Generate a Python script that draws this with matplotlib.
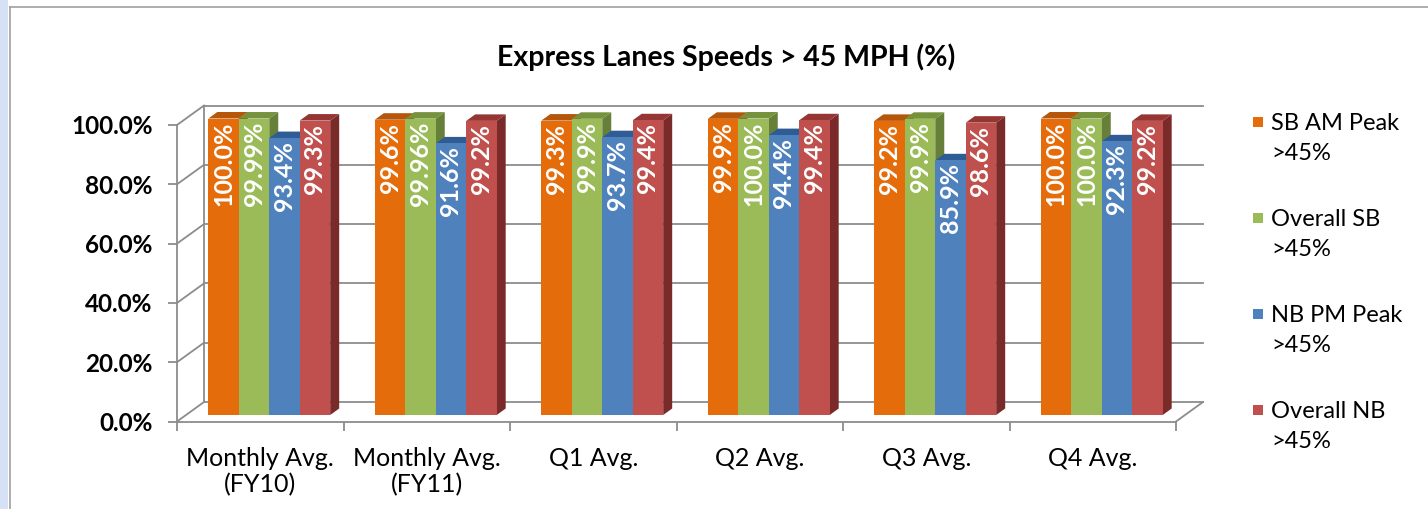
import numpy as np
import matplotlib
matplotlib.use('Agg')
import matplotlib.pyplot as plt
from matplotlib.patches import Rectangle, Polygon
from matplotlib.lines import Line2D
from matplotlib.ticker import FixedLocator
import matplotlib.transforms as mtransforms

plt.rcParams['font.family'] = ['Lato', 'DejaVu Sans']

# ---------------------------------------------------------------- data
categories = ['Monthly Avg.\n(FY10)', 'Monthly Avg.\n(FY11)', 'Q1 Avg.',
              'Q2 Avg.', 'Q3 Avg.', 'Q4 Avg.']
series_names = ['SB AM Peak\n>45%', 'Overall SB\n>45%',
                'NB PM Peak\n>45%', 'Overall NB\n>45%']
sb_am_peak = [100.0, 99.6, 99.3, 99.9, 99.2, 100.0]
overall_sb = [99.99, 99.96, 99.9, 100.0, 99.9, 100.0]
nb_pm_peak = [93.4, 91.6, 93.7, 94.4, 85.9, 92.3]
overall_nb = [99.3, 99.2, 99.4, 99.4, 98.6, 99.2]
yticks = [0, 20, 40, 60, 80, 100]

front_cols = ['#e46c0a', '#9bbb59', '#4f81bd', '#c0504d']
top_cols = ['#b5560a', '#76923c', '#2f5c94', '#963634']
side_cols = ['#a04c08', '#66803a', '#2a5285', '#7a2a28']
grid = '#8c8c8c'

W, H = 1428, 509
fig = plt.figure(figsize=(W / 100, H / 100), dpi=100)
fig.patch.set_facecolor('white')

# window chrome
fig.add_artist(Rectangle((0, 0), 8 / W, 1, transform=fig.transFigure,
                         color='#d5e2f6', lw=0))
fig.add_artist(Line2D([9.5 / W, 9.5 / W], [0, 1 - 6.5 / H], color='#a0a0a0', lw=1.2))
fig.add_artist(Line2D([9.5 / W, 1], [1 - 6.5 / H, 1 - 6.5 / H], color='#a0a0a0', lw=1.2))

ax = fig.add_axes([177 / W, (H - 421.5) / H, (1176 - 177) / W, (421.5 - 125) / H])
ax.set_xlim(0, len(categories))
ax.set_ylim(0, 100)
ax.patch.set_alpha(0)

# depth of the 3d box, pixels -> data units
DX, DY = 27, 19.5
ddx = DX / (ax.bbox.width / len(categories))
ddy = DY / (ax.bbox.height / 100)

# back wall, side wall and floor
lk = dict(color=grid, lw=1.3, clip_on=False, zorder=1)
n = len(categories)
for v in yticks:
    ax.plot([ddx, n + ddx], [v + ddy, v + ddy], **lk)
    ax.plot([0, ddx], [v, v + ddy], **lk)
ax.plot([ddx, ddx], [ddy, 100 + ddy], **lk)
ax.plot([n, n + ddx], [0, ddy], **lk)

# bars
bw = 0.183
f0 = 1 / 3          # depth position of bar front face
fd = 1 / 3          # bar depth
lab_t = mtransforms.offset_copy(ax.transData, fig=fig, y=-3, units='dots')
all_vals = [sb_am_peak, overall_sb, nb_pm_peak, overall_nb]
for i, vals in enumerate(all_vals):
    xs = np.arange(n) + 0.5 + (i - 1.5) * bw + f0 * ddx
    base = f0 * ddy
    ax.bar(xs, vals, bw, bottom=base, color=front_cols[i], zorder=3 + i,
           clip_on=False, lw=0)
    for x, v in zip(xs, vals):
        x0, x1 = x - bw / 2, x + bw / 2
        y1 = base + v
        ex, ey = fd * ddx, fd * ddy
        ax.add_patch(Polygon([(x1, base), (x1, y1), (x1 + ex, y1 + ey), (x1 + ex, base + ey)],
                             closed=True, color=side_cols[i], lw=0, zorder=2.9 + i, clip_on=False))
        ax.add_patch(Polygon([(x0, y1), (x1, y1), (x1 + ex, y1 + ey), (x0 + ex, y1 + ey)],
                             closed=True, color=top_cols[i], lw=0, zorder=2.9 + i, clip_on=False))
        txt = ('%.2f%%' if round(v, 1) != v else '%.1f%%') % v
        ax.text(x, y1, txt, rotation=90, ha='center', va='top', color='white',
                fontsize=18, fontweight='bold', transform=lab_t, zorder=20, clip_on=False)

# axes
for s in ['top', 'right']:
    ax.spines[s].set_visible(False)
for s in ['left', 'bottom']:
    ax.spines[s].set_color(grid)
    ax.spines[s].set_linewidth(1.3)
ax.set_yticks(yticks)
ax.set_yticklabels(['%.1f%%' % v for v in yticks], fontweight='bold', fontsize=17.5)
ax.tick_params(axis='y', length=6.5, width=1.3, color=grid, pad=11)
ax.set_xticks(np.arange(n + 1))
ax.set_xticklabels([])
ax.tick_params(axis='x', which='major', length=6.5, width=1.3, color=grid)
ax.xaxis.set_minor_locator(FixedLocator(np.arange(n) + 0.5))
ax.set_xticklabels(categories, minor=True, fontsize=18, linespacing=1.2)
ax.tick_params(axis='x', which='minor', length=0, pad=18)

fig.text(726 / W, 1 - 57 / H, 'Express Lanes Speeds > 45 MPH (%)', ha='center',
         va='center', fontsize=20.5, fontweight='bold')

# legend
for i, name in enumerate(series_names):
    yc = 122 + i * 96
    fig.add_artist(Rectangle((1253 / W, 1 - (yc + 5) / H), 10 / W, 10 / H,
                             transform=fig.transFigure, color=front_cols[i], lw=0))
    fig.text(1271 / W, 1 - (yc - 9) / H, name, ha='left', va='top',
             fontsize=17, linespacing=1.55)

fig.savefig('out.png', dpi=100)
